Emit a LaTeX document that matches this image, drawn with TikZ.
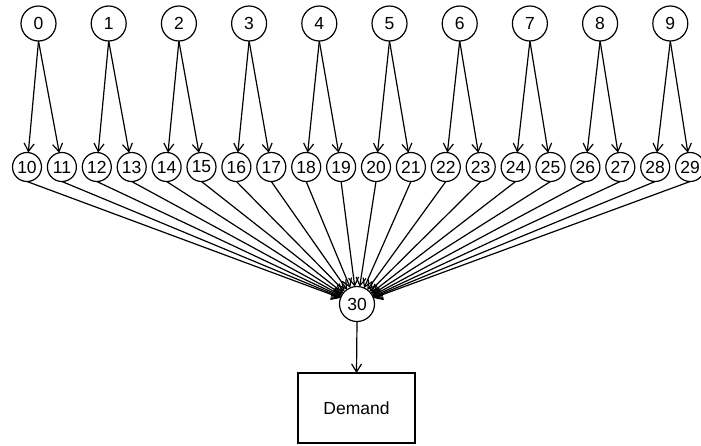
\documentclass[tikz,border=0pt]{standalone}
\usepackage{fontspec}
\setmainfont{Liberation Sans}
\usetikzlibrary{arrows.meta}

\begin{document}
\begin{tikzpicture}[x=1pt,y=-1pt,inner sep=0pt,outer sep=0pt,line width=1.2pt,
	font=\fontsize{17.5}{20}\selectfont]
	\useasboundingbox (0,0) rectangle (701,445);
	% supply nodes and split nodes
	\foreach \i in {0,...,9}
		\node[circle,draw,minimum size=35pt] (n\i) at (38.5+70.2*\i,23.5) {\i} ;
	\foreach \j in {10,...,29}
		\node[circle,draw,minimum size=29pt] (n\j) at (27+34.9*\j-349,167) {\j} ;
	\node[circle,draw,minimum size=35pt] (n30) at (357,304) {30} ;
	\node[draw,minimum width=117pt,minimum height=70pt] (dem) at (356.5,408) {Demand} ;
	\begin{scope}[-{Straight Barb[length=8pt,width=10pt]}]
	\foreach \i in {0,...,9} {
		\pgfmathtruncatemacro\lo{10+2*\i}
		\pgfmathtruncatemacro\hi{11+2*\i}
		\draw (n\i.south) -- (n\lo) ;
		\draw (n\i.south) -- (n\hi) ;
	}
	\foreach \j in {10,...,29}
		\draw (n\j.south) -- (n30) ;
	\draw (n30.south) -- (dem.north) ;
	\end{scope}
\end{tikzpicture}
\end{document}
